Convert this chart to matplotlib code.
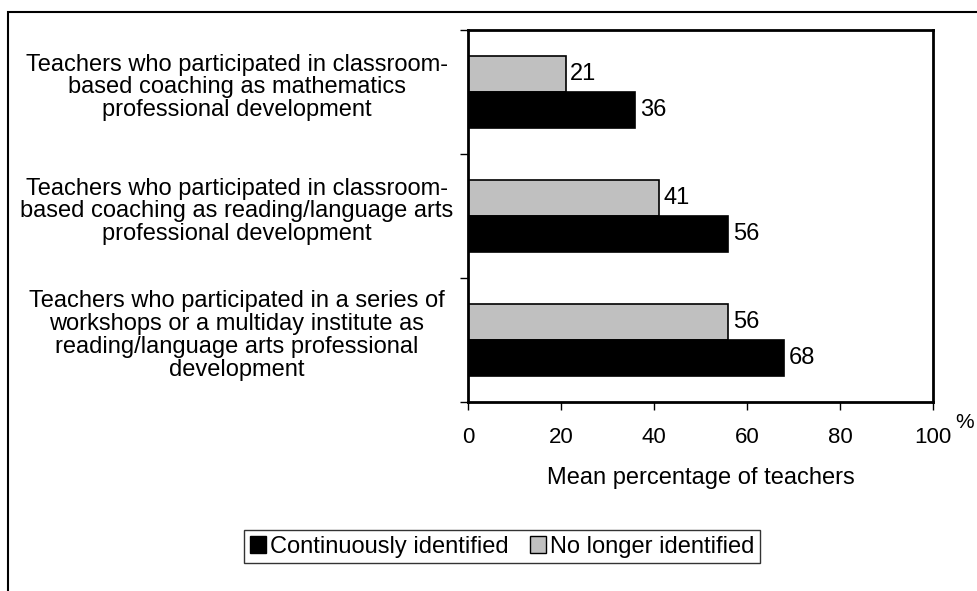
import matplotlib
matplotlib.use("Agg")
import matplotlib.pyplot as plt
from matplotlib.patches import Rectangle, Patch
import numpy as np

plt.rcParams['font.family'] = ['Liberation Sans', 'DejaVu Sans']

categories = [
    "Teachers who participated in classroom-\nbased coaching as mathematics\nprofessional development",
    "Teachers who participated in classroom-\nbased coaching as reading/language arts\nprofessional development",
    "Teachers who participated in a series of\nworkshops or a multiday institute as\nreading/language arts professional\ndevelopment",
]
continuously = [36, 56, 68]
no_longer = [21, 41, 56]
series_names = ["Continuously identified", "No longer identified"]
xticks = [0, 20, 40, 60, 80, 100]

W, H = 977, 591
fig = plt.figure(figsize=(W / 100, H / 100), dpi=100)
ax = fig.add_axes([468 / W, 1 - 402 / H, (933 - 468) / W, (402 - 30) / H])

y = np.arange(len(categories))
bh = 0.29
fs = 17
b1 = ax.barh(y - bh / 2, no_longer, height=bh, color='#c0c0c0', edgecolor='black', linewidth=1.2)
b2 = ax.barh(y + bh / 2, continuously, height=bh, color='black', edgecolor='black', linewidth=1.2)
for rects, vals in ((b1, no_longer), (b2, continuously)):
    for r, v in zip(rects, vals):
        ax.text(v + 1.0, r.get_y() + r.get_height() / 2, str(v), va='center', ha='left', fontsize=fs)

ax.set_xlim(0, 100)
ax.set_ylim(len(categories) - 0.5, -0.5)
ax.set_xticks(xticks)
ax.set_xticklabels([str(t) for t in xticks], fontsize=16)
ax.tick_params(axis='x', direction='out', length=6, width=1, pad=12)

ax.set_yticks(np.arange(len(categories) + 1) - 0.5)
ax.set_yticklabels([])
ax.set_yticks(y - 0.06, minor=True)
ax.set_yticklabels(categories, minor=True, fontsize=fs, ha='center', multialignment='center', linespacing=1.05)
ax.tick_params(axis='y', which='major', direction='out', length=6, width=1)
ax.tick_params(axis='y', which='minor', length=0, pad=(468 - 237) * 0.72)

for s in ax.spines.values():
    s.set_linewidth(2)

ax.set_xlabel("Mean percentage of teachers", fontsize=fs, labelpad=14)
fig.text(955 / W, 1 - 422 / H, "%", fontsize=15, ha='left', va='center')

handles = [Patch(facecolor='black', edgecolor='black'), Patch(facecolor='#c0c0c0', edgecolor='black')]
leg = fig.legend(handles, series_names, loc='center', bbox_to_anchor=(502 / W, 1 - 546.5 / H), ncol=2,
                 fontsize=fs, frameon=True, fancybox=False, edgecolor='black', handlelength=0.7,
                 handleheight=0.7, handletextpad=0.15, columnspacing=0.9, borderpad=0.25, borderaxespad=0)
leg.get_frame().set_linewidth(1)

fig.patches.append(Rectangle((8 / W, -0.1), 1.2, 1.1 - 12 / H, transform=fig.transFigure,
                             fill=False, edgecolor='black', linewidth=1.5))

fig.savefig("out.png", dpi=100)
